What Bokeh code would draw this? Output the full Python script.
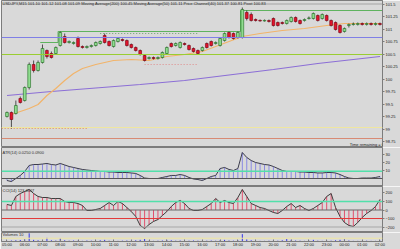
from bokeh.plotting import figure
from bokeh.layouts import column
from bokeh.models import Range1d, FixedTicker, Label, Span, ColumnDataSource
from bokeh.embed import file_html
from bokeh.resources import INLINE

# ---------------- data ----------------
bars = list(range(85))
open_ = [99.25, 99.33, 99.31, 99.61, 99.57, 99.83, 100.29, 100.17, 100.33, 100.57,
         100.51, 100.51, 100.67, 100.85, 100.73, 100.71, 100.81, 100.65, 100.63, 100.65,
         100.67, 100.71, 100.87, 100.75, 100.65, 100.75, 100.79, 100.77, 100.69, 100.63,
         100.57, 100.47, 100.41, 100.43, 100.41, 100.43, 100.51, 100.71, 100.67, 100.63,
         100.71, 100.67, 100.61, 100.57, 100.57, 100.71, 100.75, 100.71, 100.67, 100.77,
         100.93, 100.91, 100.83, 100.83, 101.33, 101.29, 101.19, 101.17, 101.16, 101.17,
         101.21, 101.13, 101.13, 101.11, 101.15, 101.23, 101.17, 101.17, 101.21, 101.21,
         101.27, 101.21, 101.27, 101.17, 101.13, 101.07, 100.95, 101.07, 101.09, 101.09,
         101.11, 101.09, 101.11, 101.09, 101.11]
close_ = [99.33, 99.19, 99.47, 99.53, 99.83, 100.29, 100.17, 100.33, 100.61, 100.45,
          100.43, 100.63, 100.93, 100.73, 100.75, 100.73, 100.65, 100.63, 100.65, 100.67,
          100.73, 100.75, 100.73, 100.67, 100.77, 100.81, 100.77, 100.67, 100.63, 100.57,
          100.49, 100.37, 100.43, 100.41, 100.43, 100.53, 100.63, 100.65, 100.71, 100.73,
          100.69, 100.59, 100.55, 100.51, 100.63, 100.63, 100.67, 100.73, 100.81, 100.91,
          100.83, 100.81, 100.93, 101.39, 101.21, 101.17, 101.17, 101.16, 101.17, 101.15,
          101.07, 101.07, 101.11, 101.17, 101.23, 101.15, 101.11, 101.19, 101.22, 101.31,
          101.17, 101.29, 101.17, 101.07, 100.99, 100.93, 101.01, 101.09, 101.10, 101.11,
          101.09, 101.11, 101.09, 101.11, 101.09]
high_ = [99.35, 99.35, 99.57, 99.65, 99.85, 100.33, 100.37, 100.37, 100.69, 100.59,
         100.55, 100.65, 100.95, 100.91, 100.77, 100.75, 100.85, 100.67, 100.67, 100.69,
         100.75, 100.77, 100.91, 100.77, 100.79, 100.83, 100.81, 100.79, 100.71, 100.65,
         100.59, 100.49, 100.45, 100.45, 100.45, 100.55, 100.65, 100.73, 100.73, 100.75,
         100.73, 100.69, 100.63, 100.59, 100.65, 100.73, 100.77, 100.75, 100.83, 100.93,
         100.95, 100.93, 100.95, 101.43, 101.37, 101.33, 101.21, 101.19, 101.19, 101.19,
         101.23, 101.15, 101.15, 101.19, 101.25, 101.25, 101.19, 101.21, 101.25, 101.33,
         101.29, 101.31, 101.29, 101.19, 101.15, 101.09, 101.03, 101.11, 101.13, 101.13,
         101.13, 101.13, 101.13, 101.13, 101.13]
low_ = [99.23, 99.01, 99.29, 99.51, 99.55, 99.79, 100.13, 100.15, 100.31, 100.41,
        100.41, 100.49, 100.65, 100.71, 100.71, 100.69, 100.63, 100.61, 100.61, 100.63,
        100.65, 100.69, 100.71, 100.65, 100.63, 100.73, 100.75, 100.65, 100.61, 100.55,
        100.47, 100.35, 100.39, 100.39, 100.39, 100.41, 100.49, 100.63, 100.65, 100.61,
        100.67, 100.57, 100.53, 100.49, 100.55, 100.61, 100.65, 100.69, 100.65, 100.75,
        100.81, 100.79, 100.81, 100.81, 101.17, 101.15, 101.15, 101.15, 101.15, 101.13,
        101.05, 101.05, 101.09, 101.09, 101.13, 101.13, 101.09, 101.15, 101.19, 101.19,
        101.15, 101.19, 101.15, 101.05, 100.97, 100.91, 100.93, 101.03, 101.07, 101.07,
        101.07, 101.07, 101.07, 101.07, 101.07]

ma_slow_x = [0, 10, 20, 30, 40, 50, 60, 70, 76, 84]
ma_slow = [99.67, 99.75, 99.82, 99.89, 99.97, 100.08, 100.19, 100.31, 100.37, 100.45]
ma_fast_x = [1, 3, 5, 7, 9, 11, 13, 15, 17, 20, 24, 28, 32, 36, 40, 44, 47, 50, 53, 57,
             62, 67, 72, 76, 84]
ma_fast = [99.29, 99.35, 99.41, 99.49, 99.67, 99.81, 99.97, 100.11, 100.21, 100.29,
           100.37, 100.39, 100.37, 100.45, 100.49, 100.55, 100.65, 100.75, 100.85, 100.91,
           100.97, 101.01, 101.07, 101.11, 101.11]

channel_x = [7.5, 11.5, 52.6, 84.6]
channel_y = [100.73, 100.95, 101.37, 101.37]

levels = [101.50, 100.83, 100.49, 99.03, 98.81]
level_colors = ["#a4a4a4", "#7f7fe6", "#9acd32", "#efe6a0", "#d88a74"]
dotted_x0 = [21, 31, -1.2]
dotted_x1 = [43, 43, 18]
dotted_y = [100.91, 100.29, 99.01]
dotted_colors = ["#6f9f6f", "#e08a8a", "#e8904e"]

price_ticks = [98.75, 99.00, 99.25, 99.50, 99.75, 100.00, 100.25, 100.50, 100.75, 101.00, 101.25, 101.50]
price_marks = [101.39, 101.09, 100.49, 99.03]

osc1 = [-2.5, -3.8, 0, 3.8, 8.8, 16.3, 17.5, 17.5, 18.1, 18.8,
        17.5, 16.9, 18.8, 16.9, 15.0, 13.8, 12.5, 11.3, 10.6, 10.0,
        9.4, 8.8, 8.8, 8.1, 8.1, 7.5, 7.5, 7.5, 6.9, 6.3,
        3.8, 0.6, 0, 0, 0, 1.3, 2.5, 3.8, 3.8, 5.0,
        3.8, 1.3, -0.6, -1.3, -2.5, 0, 2.5, 3.8, 12.5, 13.8,
        11.3, 10.0, 12.5, 32.5, 26.3, 22.5, 20.0, 18.8, 17.5, 16.9,
        15.0, 12.5, 10.0, 8.8, 8.8, 8.8, 8.1, 8.1, 7.5, 7.5,
        6.9, 6.9, 7.5, 7.5, 6.9, 5.0, 2.5, 0.6, 0, 0,
        0.6, 0.6, 0.6, 1.3, 2.5]
osc1_level = 9
osc1_ticks = [10, 20, 30]

cci = [65, 53, 159, 194, 218, 241, 194, 159, 147, 147,
       135, 135, 135, 100, 88, 88, 76, 53, -6, -6,
       6, 18, 53, 88, 53, 100, 76, 29, -18, -76,
       -182, -218, -171, -135, -112, -65, -18, 41, 88, 112,
       76, 18, -6, -6, 6, 41, 76, 135, 88, 112,
       88, 76, 147, 241, 159, 76, 53, 29, 18, -6,
       -29, -41, -6, 41, 76, 29, 53, 18, -6, 18,
       53, 88, 159, 194, 29, -76, -147, -182, -194, -147,
       -88, -41, -6, 41, 123]
cci_levels = [100, 0, -100, -200]
cci_level_colors = ["#52e0aa", "#6a6a6a", "#e23a3a", "#a8a8a8"]
cci_ticks = [-200, -100, 0, 100, 200]

volume = [8, 12, 15, 18, 25, 100, 20, 15, 18, 45,
          15, 12, 40, 15, 10, 12, 10, 8, 12, 10,
          8, 15, 20, 10, 12, 8, 10, 12, 10, 15,
          20, 30, 10, 8, 10, 12, 20, 15, 10, 12,
          8, 10, 12, 10, 8, 10, 12, 10, 15, 20,
          12, 10, 15, 90, 25, 15, 10, 8, 8, 10,
          12, 10, 15, 30, 20, 12, 10, 8, 10, 20,
          10, 8, 12, 10, 15, 20, 25, 12, 8, 8,
          8, 10, 8, 8, 10]

time_ticks = list(range(0, 85, 4))
time_labels = ["05:00", "06:00", "07:00", "08:00", "09:00", "10:00", "11:00", "12:00",
               "13:00", "14:00", "15:00", "16:00", "17:00", "18:00", "19:00", "20:00",
               "21:00", "22:00", "23:00", "00:00", "01:00", "02:00"]

# ---------------- styling ----------------
FONT = "Liberation Sans"
BG = "#d9d9d9"
AX = "#7c7c7c"
XR = Range1d(-1.232, 84.57)


def make_fig(h, yr, below=False):
    p = figure(width=400, height=h, x_range=XR, y_range=yr, output_backend="svg",
               toolbar_location=None, min_border_left=1, min_border_right=16,
               min_border_top=0, min_border_bottom=0,
               x_axis_location="below" if below else None, y_axis_location="right",
               background_fill_color=BG, border_fill_color=BG,
               outline_line_color=AX)
    p.grid.visible = False
    ax = p.yaxis[0]
    ax.axis_line_color = AX
    ax.major_tick_line_color = AX
    ax.minor_tick_line_color = None
    ax.major_tick_out = 2
    ax.major_tick_in = 0
    ax.major_label_standoff = 1
    ax.major_label_text_font_size = "4px"
    ax.major_label_text_font = FONT
    ax.major_label_text_color = "#202020"
    return p


def mark(p, x, y, txt):
    p.add_layout(Label(x=x, y=y, text=txt, text_font_size="4px", text_font=FONT,
                       text_color="white", text_baseline="middle",
                       background_fill_color="black", background_fill_alpha=1.0))


# ---------------- main price panel ----------------
pm = make_fig(147, Range1d(98.63, 101.57))
pm.yaxis.ticker = FixedTicker(ticks=price_ticks)
for lv, col in zip(levels, level_colors):
    pm.add_layout(Span(location=lv, dimension="width", line_color=col, line_width=1.2))
for x0, x1, y, col in zip(dotted_x0, dotted_x1, dotted_y, dotted_colors):
    pm.line([x0, x1], [y, y], line_color=col, line_width=1, line_dash="1 2")
pm.step(channel_x, channel_y, mode="after", line_color="#5fb35f", line_width=1)
pm.line(ma_slow_x, ma_slow, line_color="#8c6fd6", line_width=1.2)
pm.line(ma_fast_x, ma_fast, line_color="#f2b46a", line_width=1.2)

up = [i for i in bars if close_[i] >= open_[i]]
dn = [i for i in bars if close_[i] < open_[i]]


def body(idx):
    top = [max(open_[i], close_[i]) for i in idx]
    bot = [min(open_[i], close_[i]) for i in idx]
    top = [t if t - b >= 0.012 else b + 0.012 for t, b in zip(top, bot)]
    return ColumnDataSource(dict(x=idx, top=top, bottom=bot,
                                 h=[high_[i] for i in idx], l=[low_[i] for i in idx]))


su, sd = body(up), body(dn)
for s in (su, sd):
    pm.segment(x0="x", y0="h", x1="x", y1="l", source=s, line_color="#2c2c2c", line_width=0.8)
pm.vbar(x="x", top="top", bottom="bottom", width=0.62, source=su,
        fill_color="#8fdc8f", line_color="#1f6a1f", line_width=0.6)
pm.vbar(x="x", top="top", bottom="bottom", width=0.62, source=sd,
        fill_color="#e0142c", line_color="#7a0010", line_width=0.6)

pm.add_layout(Label(x=-1.0, y=101.565, text="USDJPY,M15  101.10 101.12 101.08 101.09   "
                    "Moving Average(200) 100.45   Moving Average(50) 101.11   "
                    "Price Channel(40) 101.37 100.81   Pivot 100.83",
                    text_font_size="4px", text_font=FONT, text_color="#303030",
                    text_baseline="top"))
pm.add_layout(Label(x=77.2, y=98.69, text="Time remaining = 02:58", text_font_size="4px",
                    text_font=FONT, text_color="#202020", text_baseline="middle"))
for pv in price_marks:
    mark(pm, 84.75, pv, "%.2f" % pv)

# ---------------- oscillator panel ----------------
p2 = make_fig(39, Range1d(-10, 38.75))
p2.yaxis.ticker = FixedTicker(ticks=osc1_ticks)
p2.segment(bars, [0] * len(bars), bars, osc1, line_color="#8a8ae2", line_width=1)
p2.add_layout(Span(location=osc1_level, dimension="width", line_color="#52e0aa", line_width=1.5))
p2.add_layout(Span(location=0, dimension="width", line_color="#555555", line_width=1))
p2.line(bars, osc1, line_color="#3c3c4c", line_width=1)
p2.add_layout(Label(x=-1.0, y=33, text="ATR(14) 0.0250 0.0900", text_font_size="4px",
                    text_font=FONT, text_color="#303030", text_baseline="middle"))
mark(p2, 84.75, osc1[-1], "%.1f" % osc1[-1])

# ---------------- CCI panel ----------------
p3 = make_fig(46, Range1d(-264.6, 276.4))
p3.yaxis.ticker = FixedTicker(ticks=cci_ticks)
p3.segment(bars, [0] * len(bars), bars, cci, line_color="#e2506e", line_width=1)
for lv, col in zip(cci_levels, cci_level_colors):
    p3.add_layout(Span(location=lv, dimension="width", line_color=col,
                       line_width=1.4 if lv == 100 else 1.1))
p3.line(bars, cci, line_color="#3c3c3c", line_width=1)
p3.add_layout(Label(x=-1.0, y=232, text="CCI(14) 123.4567", text_font_size="4px",
                    text_font=FONT, text_color="#303030", text_baseline="middle"))
mark(p3, 84.75, cci[-1], "%.1f" % cci[-1])

# ---------------- volume panel ----------------
p4 = make_fig(17, Range1d(0, 110), below=True)
p4.yaxis.ticker = FixedTicker(ticks=[])
p4.add_layout(Span(location=40, dimension="width", line_color="#efe6a0", line_width=1))
p4.segment(bars, [0] * len(bars), bars, volume, line_color="#3434e6", line_width=1)
p4.add_layout(Label(x=-1.0, y=90, text="Volumes 10", text_font_size="4px",
                    text_font=FONT, text_color="#303030", text_baseline="middle"))
xa = p4.xaxis[0]
xa.ticker = FixedTicker(ticks=time_ticks)
xa.major_label_overrides = {t: lab for t, lab in zip(time_ticks, time_labels)}
xa.axis_line_color = AX
xa.major_tick_line_color = AX
xa.minor_tick_line_color = None
xa.major_tick_in = 2
xa.major_tick_out = 0
xa.major_label_standoff = 0
xa.major_label_text_font_size = "4px"
xa.major_label_text_font = FONT
xa.major_label_text_color = "#202020"

layout = column(pm, p2, p3, p4, spacing=0)
open("out.html", "w").write(file_html(layout, INLINE))
